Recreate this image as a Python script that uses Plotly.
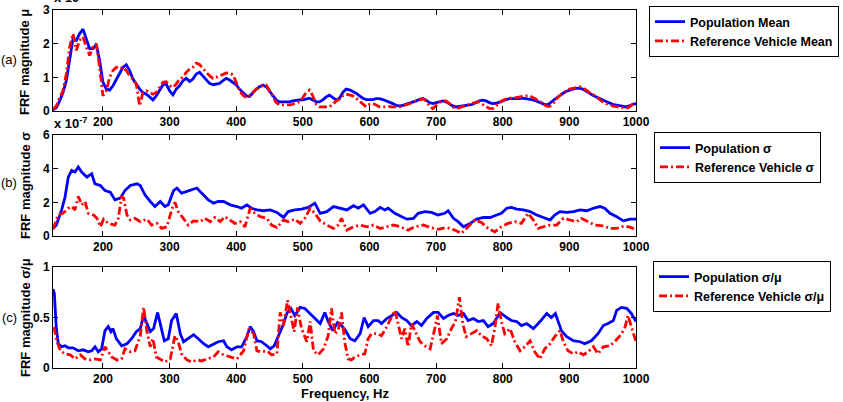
import plotly.graph_objects as go

# ---------------- data ----------------
FREQ_A = list(range(125, 1001, 5))
MEAN_POP = [0.03,0.1,0.3,0.55,0.9,1.6,2.15,2.1,2.3,2.43,
            2.15,1.85,1.85,1.97,1.5,0.85,0.65,0.62,0.75,0.95,
            1.15,1.3,1.37,1.2,0.95,0.8,0.65,0.55,0.5,0.42,
            0.33,0.45,0.6,0.78,0.8,0.6,0.48,0.65,0.75,0.9,
            0.97,0.88,0.95,1.1,1.15,1.05,0.92,0.82,0.78,0.8,
            0.82,0.9,0.97,0.92,0.85,0.78,0.65,0.55,0.45,0.43,
            0.55,0.65,0.72,0.77,0.72,0.6,0.45,0.33,0.27,0.27,
            0.28,0.27,0.3,0.32,0.33,0.33,0.36,0.38,0.33,0.28,
            0.27,0.33,0.42,0.47,0.4,0.33,0.38,0.55,0.65,0.63,
            0.58,0.53,0.45,0.38,0.34,0.33,0.34,0.37,0.37,0.34,
            0.3,0.28,0.22,0.17,0.15,0.17,0.2,0.22,0.25,0.3,
            0.35,0.37,0.32,0.25,0.22,0.25,0.28,0.3,0.27,0.2,
            0.15,0.12,0.13,0.15,0.17,0.18,0.2,0.25,0.3,0.32,
            0.3,0.25,0.22,0.23,0.27,0.3,0.35,0.37,0.37,0.36,
            0.37,0.38,0.37,0.36,0.33,0.3,0.27,0.22,0.18,0.22,
            0.3,0.38,0.45,0.52,0.58,0.62,0.65,0.67,0.68,0.65,
            0.6,0.53,0.47,0.42,0.37,0.33,0.28,0.24,0.2,0.18,
            0.15,0.13,0.12,0.15,0.2,0.22]
MEAN_REF = [0.05,0.15,0.4,0.6,1.1,1.9,2.3,1.8,2.1,2.2,
            1.9,1.65,1.9,2.0,1.3,0.45,0.6,1.0,1.2,1.3,
            1.25,1.3,1.2,1.05,0.95,0.8,0.15,0.55,0.6,0.55,
            0.5,0.55,0.7,0.85,0.87,0.75,0.7,0.8,0.95,1.0,
            1.15,1.25,1.3,1.42,1.38,1.25,1.15,1.05,0.97,1.0,
            1.05,1.1,1.13,1.12,1.08,0.85,0.6,0.47,0.4,0.45,
            0.55,0.65,0.7,0.75,0.77,0.6,0.4,0.25,0.18,0.17,
            0.18,0.18,0.2,0.25,0.27,0.4,0.55,0.62,0.45,0.2,
            0.12,0.12,0.12,0.12,0.2,0.3,0.35,0.45,0.5,0.48,
            0.45,0.38,0.3,0.2,0.12,0.2,0.22,0.18,0.12,0.12,
            0.13,0.13,0.12,0.12,0.12,0.15,0.18,0.22,0.25,0.3,
            0.33,0.36,0.3,0.15,0.07,0.15,0.25,0.3,0.3,0.22,
            0.12,0.07,0.1,0.15,0.18,0.2,0.23,0.26,0.27,0.2,
            0.12,0.08,0.07,0.15,0.25,0.32,0.35,0.38,0.4,0.4,
            0.42,0.43,0.45,0.45,0.4,0.35,0.3,0.22,0.15,0.13,
            0.2,0.35,0.45,0.5,0.6,0.65,0.68,0.7,0.72,0.7,
            0.62,0.55,0.5,0.42,0.35,0.27,0.22,0.18,0.15,0.13,
            0.12,0.1,0.07,0.12,0.2,0.22]

SIG_POP_F = [125,130,138,143,148,153,158,163,168,176,183,188,196,203,211,218,226,233,241,251,
             256,263,271,278,286,293,298,306,311,318,326,333,341,348,358,366,373,381,391,401,
             408,416,423,431,441,451,461,471,478,488,498,508,518,526,536,546,556,566,576,583,
             591,601,608,616,623,628,638,648,656,666,673,683,693,703,713,718,726,733,741,751,
             761,771,781,791,798,806,813,821,831,841,851,861,871,878,886,896,906,916,926,936,
             946,953,961,971,981,991,1000]
SIG_POP = [0.45,0.65,1.55,2.3,3.5,3.9,3.8,4.1,3.8,3.5,3.7,3.1,3.0,2.7,2.6,2.15,2.25,2.7,3.0,3.1,
           3.0,2.45,2.05,1.75,2.05,1.75,1.85,2.7,2.85,2.55,2.65,2.75,2.85,2.55,2.15,1.95,2.05,2.05,1.85,1.75,
           1.65,1.85,1.65,1.55,1.5,1.55,1.4,1.1,1.45,1.55,1.6,1.7,1.95,1.35,1.45,1.75,1.65,1.55,1.8,1.65,
           1.85,1.35,1.45,1.7,1.55,1.65,1.35,1.15,1.0,1.05,1.35,1.45,1.4,1.25,1.35,1.5,1.05,0.85,0.55,0.75,
           1.0,1.1,1.1,1.25,1.35,1.65,1.7,1.6,1.55,1.45,1.25,1.1,0.95,1.25,1.45,1.4,1.45,1.55,1.5,1.65,
           1.75,1.65,1.35,1.15,0.9,1.0,1.0]

SIG_REF_F = [125,133,140,148,153,158,163,168,173,178,186,191,196,201,208,218,223,228,231,236,
             241,248,256,266,273,281,288,296,303,308,313,321,328,336,346,353,361,368,376,383,
             391,398,406,413,421,428,436,446,453,461,471,478,488,496,503,511,518,526,536,546,
             553,558,566,576,586,596,606,616,626,636,646,658,668,681,691,703,716,728,738,748,
             758,768,778,788,798,808,818,828,838,846,853,861,871,881,891,901,911,918,928,938,
             951,961,971,983,993,1000]
SIG_REF = [0.4,1.25,1.35,1.65,1.75,1.55,2.35,1.85,2.05,1.35,1.25,1.05,0.55,1.0,0.75,0.65,1.05,2.35,2.25,1.25,
           0.95,1.05,0.85,1.0,0.65,0.75,0.45,0.55,1.55,2.0,1.45,1.05,0.65,0.9,0.85,1.05,0.85,1.1,0.85,1.15,
           0.95,0.75,0.85,0.55,1.65,1.35,1.15,1.05,0.65,0.5,0.95,0.85,1.0,0.75,1.05,1.65,1.35,0.9,0.65,0.45,
           0.65,1.05,0.35,0.55,0.65,0.55,0.65,0.45,0.55,0.65,0.55,0.35,0.55,0.65,0.5,0.4,0.5,0.35,0.15,0.55,
           0.95,0.8,0.45,0.25,0.55,0.75,0.85,0.75,1.35,0.95,0.45,0.55,0.65,0.65,1.05,0.95,0.85,1.05,0.85,0.65,
           0.6,0.45,0.45,0.6,0.5,0.35]

COV_POP_F = [125,127,130,133,138,143,148,155,163,170,178,183,188,193,198,203,208,212,215,220,
             228,236,243,250,256,261,266,271,276,282,287,292,298,303,310,316,321,328,336,343,
             351,358,366,373,381,386,393,401,408,416,421,426,431,438,446,451,457,463,470,476,
             482,488,496,503,511,518,526,533,538,545,552,558,564,571,578,586,592,598,606,613,
             618,626,633,641,648,656,663,671,678,686,696,703,711,718,726,733,741,748,756,763,
             771,778,786,796,806,813,821,828,836,846,856,866,873,879,888,896,906,916,923,933,
             943,951,958,966,971,978,986,993,1000]
COV_POP = [0.78,0.74,0.39,0.24,0.21,0.22,0.2,0.2,0.17,0.18,0.16,0.17,0.21,0.16,0.19,0.37,0.41,0.36,0.39,0.29,
           0.22,0.24,0.29,0.36,0.39,0.52,0.44,0.36,0.39,0.55,0.41,0.27,0.29,0.47,0.54,0.34,0.26,0.29,0.33,0.29,
           0.24,0.21,0.24,0.26,0.27,0.21,0.18,0.21,0.21,0.31,0.41,0.36,0.27,0.26,0.22,0.19,0.22,0.31,0.42,0.54,
           0.59,0.52,0.6,0.59,0.54,0.5,0.44,0.55,0.46,0.37,0.45,0.42,0.37,0.29,0.27,0.34,0.5,0.41,0.47,0.47,
           0.44,0.49,0.52,0.55,0.5,0.47,0.42,0.46,0.42,0.49,0.55,0.55,0.49,0.52,0.54,0.52,0.54,0.47,0.49,0.46,
           0.47,0.41,0.44,0.55,0.5,0.47,0.46,0.42,0.44,0.39,0.46,0.54,0.5,0.54,0.37,0.31,0.27,0.26,0.24,0.27,
           0.34,0.42,0.44,0.47,0.57,0.6,0.59,0.54,0.46]

COV_REF_F = [125,127,131,136,143,151,158,166,173,181,188,196,203,208,213,221,228,233,241,248,
             256,261,266,271,275,280,286,293,301,308,313,318,326,333,341,348,356,366,373,381,
             391,401,411,419,426,431,438,446,453,461,466,471,477,482,487,492,498,506,511,516,
             523,531,538,543,548,553,558,563,568,573,578,586,593,598,603,611,618,626,633,638,
             643,648,653,658,663,668,676,683,691,698,702,708,716,723,729,735,740,745,753,761,
             768,776,783,788,793,798,803,811,818,826,833,841,848,856,863,871,878,886,891,898,
             906,913,921,928,936,943,951,961,968,976,983,988,993,998,1000]
COV_REF = [0.4,0.39,0.26,0.17,0.14,0.13,0.09,0.13,0.09,0.08,0.09,0.08,0.21,0.16,0.11,0.08,0.09,0.19,0.16,0.17,
           0.32,0.6,0.36,0.21,0.29,0.11,0.09,0.06,0.09,0.32,0.26,0.14,0.08,0.06,0.08,0.07,0.09,0.11,0.16,0.13,
           0.11,0.09,0.17,0.39,0.34,0.17,0.16,0.17,0.13,0.14,0.55,0.42,0.67,0.5,0.36,0.6,0.39,0.26,0.46,0.17,
           0.13,0.19,0.32,0.59,0.34,0.37,0.55,0.25,0.09,0.08,0.11,0.13,0.14,0.29,0.34,0.34,0.32,0.41,0.5,0.57,
           0.44,0.29,0.39,0.21,0.44,0.37,0.26,0.22,0.19,0.39,0.52,0.24,0.29,0.39,0.46,0.7,0.44,0.31,0.34,0.37,
           0.32,0.29,0.22,0.39,0.64,0.46,0.34,0.39,0.26,0.17,0.21,0.27,0.16,0.09,0.19,0.24,0.31,0.37,0.26,0.17,
           0.14,0.16,0.13,0.16,0.21,0.14,0.21,0.22,0.26,0.32,0.39,0.52,0.41,0.29,0.26]

X_TICKS = [200, 300, 400, 500, 600, 700, 800, 900, 1000]

# ---------------- layout helpers ----------------
W, H = 843, 402
L, R = 53, 636
FONT = "Liberation Sans, Arial, sans-serif"
BLUE = "#0000FF"
RED = "#FF0000"
DASH = "8px,3px,2px,3px"

def px_x(p):
    return (p - L) / (R - L)

def px_y(p):
    return 1 - p / H

fig = go.Figure()

panels = [
    ("x", "y", FREQ_A, MEAN_POP, FREQ_A, MEAN_REF, "Population Mean", "Reference Vehicle Mean", "legend"),
    ("x2", "y2", SIG_POP_F, SIG_POP, SIG_REF_F, SIG_REF, "Population σ", "Reference Vehicle σ", "legend2"),
    ("x3", "y3", COV_POP_F, COV_POP, COV_REF_F, COV_REF, "Population σ/μ", "Reference Vehicle σ/μ", "legend3"),
]
for xa, ya, fx1, v1, fx2, v2, n1, n2, lg in panels:
    fig.add_trace(go.Scatter(x=fx1, y=v1, xaxis=xa, yaxis=ya, mode="lines", name=n1,
                             line=dict(color=BLUE, width=2.8), legend=lg))
    fig.add_trace(go.Scatter(x=fx2, y=v2, xaxis=xa, yaxis=ya, mode="lines", name=n2,
                             line=dict(color=RED, width=2.8, dash=DASH), legend=lg))

tickfont = dict(family=FONT, size=12, color="black", weight="bold")
axcommon = dict(showline=True, linecolor="black", linewidth=1, mirror="ticks",
                ticks="inside", ticklen=5, tickcolor="black", showgrid=False,
                zeroline=False, tickfont=tickfont)

doms = {
    "a": [px_y(111), px_y(10)],
    "b": [px_y(236), px_y(135)],
    "c": [px_y(368), px_y(267)],
}

layout = dict(
    width=W, height=H,
    margin=dict(l=L, r=W - R, t=0, b=0, autoexpand=False),
    paper_bgcolor="white", plot_bgcolor="white",
    font=dict(family=FONT, color="black"),
    showlegend=True,
)
for i, (key, yr, yt) in enumerate([("a", [0, 3], [0, 1, 2, 3]),
                                   ("b", [0, 6], [0, 2, 4, 6]),
                                   ("c", [0, 1], [0, 0.5, 1])]):
    sfx = "" if i == 0 else str(i + 1)
    layout["xaxis" + sfx] = dict(axcommon, domain=[0, 1], range=[125, 1000], tickvals=X_TICKS,
                                 anchor="y" + sfx)
    layout["yaxis" + sfx] = dict(axcommon, domain=doms[key], range=yr, tickvals=yt,
                                 ticktext=[("0.5" if v == 0.5 else str(int(v))) for v in yt],
                                 anchor="x" + sfx)

legfont = dict(family=FONT, size=12.5, color="black", weight="bold")
leg_common = dict(bgcolor="white", bordercolor="black", borderwidth=1, font=legfont,
                  xanchor="left", yanchor="top", tracegroupgap=0, itemwidth=30)
layout["legend"] = dict(leg_common, x=px_x(649), y=px_y(6))
layout["legend2"] = dict(leg_common, x=px_x(654), y=px_y(132))
layout["legend3"] = dict(leg_common, x=px_x(653), y=px_y(261))

fig.update_layout(**layout)

ann = []
ylab_font = dict(family=FONT, size=13, color="black", weight="bold")
for txt, yc in [("FRF magnitude μ", 62), ("FRF magnitude σ", 186), ("FRF magnitude σ/μ", 318)]:
    ann.append(dict(text=txt, x=px_x(25), y=px_y(yc), xref="paper", yref="paper",
                    showarrow=False, textangle=-90, font=ylab_font,
                    xanchor="center", yanchor="middle"))
for txt, yc in [("(a)", 60), ("(b)", 182), ("(c)", 317)]:
    ann.append(dict(text=txt, x=px_x(9), y=px_y(yc), xref="paper", yref="paper",
                    showarrow=False, font=dict(family=FONT, size=13, color="black"),
                    xanchor="center", yanchor="middle"))
ann.append(dict(text="x 10<sup>-7</sup>", x=px_x(52), y=px_y(123), xref="paper", yref="paper",
                showarrow=False, font=ylab_font, xanchor="left", yanchor="middle"))
ann.append(dict(text="x 10<sup>-6</sup>", x=px_x(52), y=px_y(-3), xref="paper", yref="paper",
                showarrow=False, font=ylab_font, xanchor="left", yanchor="middle"))
ann.append(dict(text="Frequency, Hz", x=px_x(345), y=px_y(393), xref="paper", yref="paper",
                showarrow=False, font=ylab_font, xanchor="center", yanchor="middle"))
fig.update_layout(annotations=ann)

fig.write_html("out.html")
